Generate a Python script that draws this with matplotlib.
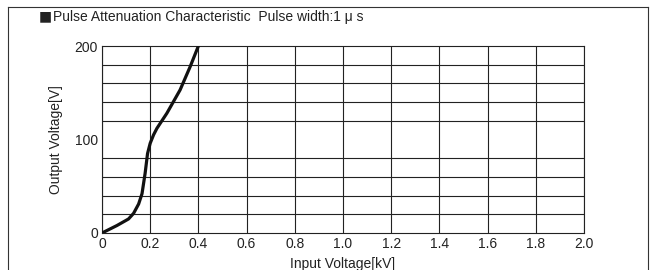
import matplotlib
matplotlib.use("Agg")
import matplotlib.pyplot as plt
from matplotlib.lines import Line2D
import numpy as np

plt.rcParams['font.family'] = ['Liberation Sans', 'DejaVu Sans']

# Data
input_kv = [0.0, 0.062, 0.11, 0.131, 0.152, 0.166, 0.179, 0.189, 0.2, 0.214, 0.228, 0.269, 0.324, 0.366, 0.4]
output_v = [0, 8, 15, 21, 31, 42, 64, 85, 96, 105, 112, 128, 153, 178, 200]
x_ticks = [0, 0.2, 0.4, 0.6, 0.8, 1.0, 1.2, 1.4, 1.6, 1.8, 2.0]
x_tick_labels = ["0", "0.2", "0.4", "0.6", "0.8", "1.0", "1.2", "1.4", "1.6", "1.8", "2.0"]
y_ticks = [0, 100, 200]
y_grid = list(range(0, 201, 20))

W, H = 651, 270
fig = plt.figure(figsize=(W/100, H/100), dpi=100)
ax = fig.add_axes([102/W, 1 - 233/H, (584-102)/W, (233-46)/H])

ax.set_xlim(0, 2.0)
ax.set_ylim(0, 200)
ax.set_xticks(x_ticks)
ax.set_xticklabels(x_tick_labels)
ax.set_yticks(y_ticks)
ax.set_yticks(y_grid, minor=True)
ax.grid(True, which='major', axis='x', color='#222222', lw=0.8)
ax.grid(True, which='minor', axis='y', color='#222222', lw=0.8)
ax.tick_params(which='both', length=0, labelsize=10, colors='#222222', pad=3)
for s in ax.spines.values():
    s.set_color('#222222')
    s.set_linewidth(0.8)

ax.plot(input_kv, output_v, color='#111111', lw=2.3, solid_capstyle='round', zorder=5)

ax.set_xlabel("Input Voltage[kV]", fontsize=10, color='#222222', labelpad=4)
ax.set_ylabel("Output Voltage[V]", fontsize=10, color='#222222', labelpad=8)

fig.text(39/W, 1 - 16/H, "■", fontsize=10, family='DejaVu Sans',
         color='#222222', va='center', ha='left')
fig.text(53/W, 1 - 17/H, "Pulse Attenuation Characteristic  Pulse width:1 μ s",
         fontsize=10, color='#222222', va='center', ha='left')

# outer frame
for xs, ys in [([8/W, 8/W], [0, 1 - 7/H]), ([8/W, 648/W], [1 - 7/H, 1 - 7/H]), ([648/W, 648/W], [0, 1 - 7/H])]:
    fig.add_artist(Line2D(xs, ys, color='#333333', lw=0.8))

fig.savefig("out.png", dpi=100)
